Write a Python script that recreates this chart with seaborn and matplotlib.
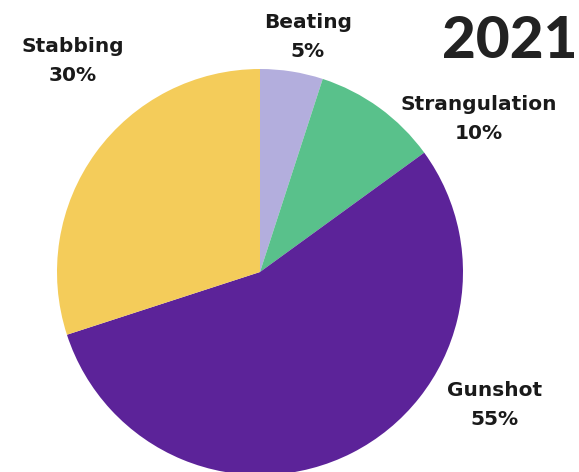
import matplotlib
matplotlib.use("Agg")
import matplotlib.pyplot as plt
import seaborn as sns

# Share of cases by cause, 2021
causes = ["Beating", "Strangulation", "Gunshot", "Stabbing"]
shares = [5, 10, 55, 30]
colors = ["#b3aedd", "#59c18b", "#5c2399", "#f4cc5a"]
year = "2021"

sns.set_theme(style="white")
plt.rcParams["font.family"] = ["DejaVu Sans"]

W, H = 579, 472
fig = plt.figure(figsize=(W / 100, H / 100), dpi=100)
ax = fig.add_axes([0, 0, 1, 1])

ax.pie(shares, colors=colors, startangle=90, counterclock=False,
       center=(260, H - 272), radius=203,
       wedgeprops=dict(linewidth=0))
ax.set_xlim(0, W)
ax.set_ylim(0, H)
ax.set_aspect("equal", adjustable="box")
ax.axis("off")

# label anchor points (pixel coords from top-left)
label_pos = {"Beating": (308, 37), "Strangulation": (479, 119),
             "Gunshot": (495, 405), "Stabbing": (73, 61)}
for cause, share in zip(causes, shares):
    x, y = label_pos[cause]
    ax.text(x, H - y, f"{cause}\n{share}%", ha="center", va="center",
            fontsize=14.5, fontweight="bold", color="#1a1a1a",
            linespacing=1.65)

ax.text(W - 1, H - 41, year, ha="right", va="center", fontsize=42,
        fontweight="black", family=["Lato", "DejaVu Sans"], color="#222222")

fig.savefig("out.png", dpi=100)
